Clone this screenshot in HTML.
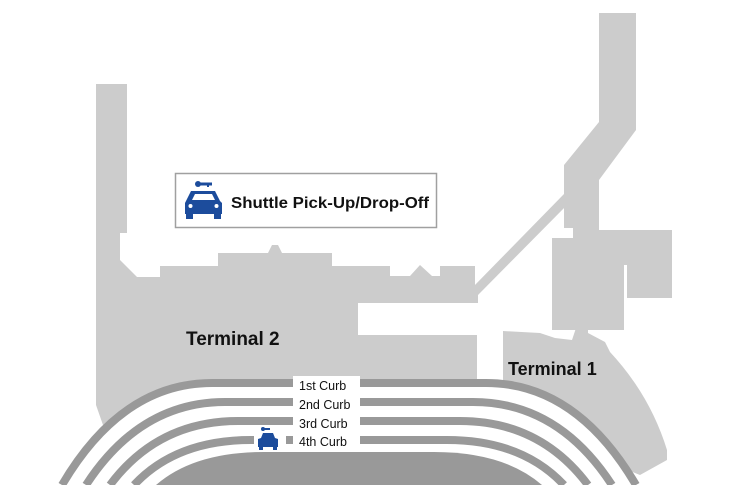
<!DOCTYPE html>
<html><head><meta charset="utf-8"><style>
html,body{margin:0;padding:0;background:#fff;}
svg{display:block}
text{font-family:"Liberation Sans",sans-serif;}
</style></head><body>
<svg width="730" height="485" viewBox="0 0 730 485" xmlns="http://www.w3.org/2000/svg">
<g fill="#cccccc">
<path d="M96 84 L127 84 L127 233 L120 233 L120 260 L137 277 L160 277 L160 266 L218 266 L218 253 L268 253 L272 245 L278 245 L282 253 L332 253 L332 266 L390 266 L390 276 L410 276 L420 265 L432 276 L440 276 L440 266 L475 266 L475 285 L478 285 L478 303 L358 303 L358 335 L477 335 L477 390 L200 390 L103 425 L96 405 Z"/>
<path d="M473 287 L564 194 L568 204 L478 295 Z"/>
<path d="M599 13 L636 13 L636 130 L599 180 L599 230 L672 230 L672 298 L627 298 L627 265 L624 265 L624 330 L552 330 L552 238 L573 238 L573 228 L564 228 L564 165 L599 122 Z"/>
<path d="M503 331 L540 333 L555 338 L572 340 L576 328 L588 328 L588 333 L605 342 L610 352 Q 650 395 667 450 L667 460 L640 475 L500 420 L503 380 Z"/>
</g>
<path d="M62 485 Q 122 383 212 383 L 486 383 Q 576 383 636 485 Z" fill="#fff"/>
<g fill="none" stroke="#999999" stroke-width="8">
<path d="M62 485 Q 122 383 212 383 L 486 383 Q 576 383 636 485"/>
<path d="M86 485 Q 140 402 225 402 L 473 402 Q 558 402 612 485"/>
<path d="M110 485 Q 158 421 238 421 L 460 421 Q 540 421 588 485"/>
<path d="M134 485 Q 176 440 251 440 L 447 440 Q 522 440 564 485"/>
</g>
<path d="M156 485 Q 194 452 264 452 L 434 452 Q 504 452 542 485 Z" fill="#999999"/>
<rect x="293" y="376" width="67" height="72" fill="#fff"/>
<g font-size="12.5" fill="#111">
<text x="299" y="390">1st Curb</text>
<text x="299" y="409">2nd Curb</text>
<text x="299" y="428">3rd Curb</text>
<text x="299" y="446">4th Curb</text>
</g>
<rect x="254" y="431" width="32" height="20" fill="#fff"/>
<g fill="#1c4c9c">
<rect x="262" y="428" width="8" height="2"/><circle cx="263" cy="429" r="2"/>
<path d="M261 438 L263 433 L273 433 L275 438 L278 439 L278 447 L258 447 L258 439 Z"/>
<rect x="259" y="446" width="4" height="4"/><rect x="273" y="446" width="4" height="4"/>
</g>
<text x="186" y="345" font-size="19" font-weight="bold" fill="#111">Terminal 2</text>
<text x="508" y="375" font-size="18" font-weight="bold" fill="#111">Terminal 1</text>
<rect x="175.5" y="173.5" width="261" height="54" fill="#fff" stroke="#a0a0a0" stroke-width="1.5"/>
<g fill="#1c4c9c">
<circle cx="198" cy="184" r="3"/><rect x="198" y="182.5" width="14" height="3"/><rect x="207" y="184" width="2" height="3"/>
<path d="M186 201 L191 191 L215 191 L220 201 L222 203 L222 214 L185 214 L185 203 Z"/>
<rect x="186" y="212" width="7" height="7"/><rect x="214" y="212" width="7" height="7"/>
</g>
<path d="M192 200 L195 194 L212 194 L215 200 Z" fill="#fff"/>
<circle cx="190.5" cy="206" r="2" fill="#fff"/><circle cx="216.5" cy="206" r="2" fill="#fff"/>
<text x="231" y="208" font-size="16" font-weight="bold" fill="#111" textLength="198" lengthAdjust="spacingAndGlyphs">Shuttle Pick-Up/Drop-Off</text>
</svg>
</body></html>
